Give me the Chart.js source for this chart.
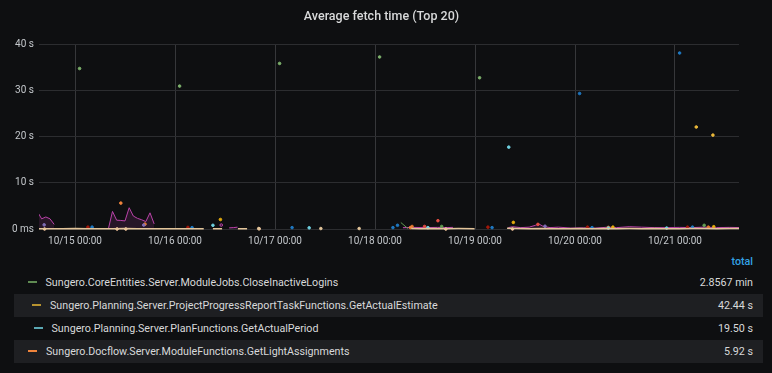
<!DOCTYPE html>
<html lang="en">
<head>
<meta charset="UTF-8">
<title>Average fetch time (Top 20)</title>
<script src="https://cdn.jsdelivr.net/npm/chart.js"></script>
<style>
    body { margin: 0; padding: 0; background: #0e0f11; font-family: Roboto, Arial, sans-serif; }
    #wrap { position: relative; width: 772px; height: 373px; overflow: hidden; }
    #chart { display: block; }
    #legend { position: absolute; left: 14px; top: 250px; width: 749px; font-size: 10.7px; color: #d8d9da; }
    .lg-head { height: 21px; line-height: 23px; text-align: right; padding-right: 10px; color: #33a2e5; font-weight: 500; }
    .lg-row { position: relative; height: 23px; line-height: 23px; }
    .lg-row.alt { background: #1e1f22; }
    .lg-dash { position: absolute; top: 10px; width: 9px; height: 2px; }
    .lg-name { position: absolute; top: 0; }
    .lg-val { position: absolute; right: 10px; top: 0; }
</style>
</head>
<body>
<div id="wrap">
    <canvas id="chart" width="772" height="250"></canvas>
    <div id="legend"></div>
</div>
<script>
// hours counted from 10/14 00:00, values in seconds; null = gap in series
const timeMin = 15.36;
const timeMax = 183.36;
const dayTicks = [24, 48, 72, 96, 120, 144, 168];
const yTicks = [0, 10, 20, 30, 40];

const closeInactiveLogins = [[25.1, 34.7], null, [49.1, 30.9], null, [73.1, 35.8], null, [97.1, 37.2], null, [121.1, 32.7]];
const getActualEstimate = [[173.1, 22.05], null, [177.1, 20.3]];
const getActualPeriod = [[57.1, 0.8], null, [80.2, 0.25], null, [108.7, 0.3], null, [128.1, 17.7], null, [152, 0.2], null, [166, 0.2]];
const getLightAssignments = [[35.0, 5.6], null, [104.5, 0.3]];
const blueSeries = [[28.1, 0.4], null, [52.1, 0.3], null, [76.1, 0.3], null, [100.3, 0.3], null, [101.4, 0.8], null, [124.1, 0.3], null,
    [145.1, 29.3], null, [148.1, 0.3], null, [169.1, 38.05], null, [172.2, 0.4]];
const darkRedSeries = [[27.1, 0.4], null, [51.1, 0.35], null, [123.1, 0.4], null, [147.0, 0.4], null, [171.0, 0.4]];
const redSeries = [[107.9, 0.55], null, [111.1, 1.8], null, [135.1, 1.0]];
const magentaSeries = [[15, 3.7], [16, 2.2], [17, 2.6], [18, 2.2], [19, 1.0], null,
    [32, 0.0], [33, 3.8], [34, 1.9], [35, 1.85], [36, 1.75], [37, 4.6], [38, 2.8], [39, 2.3], [40, 2.0], [41, 1.6], [42, 3.5], [43, 1.1], null,
    [59.1, 0.85], null,
    [61, 0.25], [62, 0.3], [63, 0.4], null,
    [102.7, 0.3], [105, 0.35], [108, 0.3], [111, 0.35], [113, 0.3], [114.7, 0.35], null,
    [128, 0.3], [129, 0.5], [131, 0.3], [133, 0.4], [134.5, 0.8], [135.3, 1.1], [136.3, 0.6], [138, 0.3], [140, 0.4], [143, 0.2],
    [146, 0.25], [149, 0.2], [152, 0.4], [154, 0.3], [157, 0.5], [160, 0.4], [163, 0.3], [166, 0.3], [169, 0.35], [172, 0.3],
    [175, 0.4], [178, 0.3], [181, 0.35], [184, 0.3]];
const beigeSeries = [[15, 0.08], [18, 0.05], [21, 0.06], [24, 0.1], [27, 0.05], [30, 0.07], [33, 0.06], [36, 0.09], [39, 0.05],
    [42, 0.08], [45, 0.06], [48, 0.05], [51, 0.07], [54.9, 0.06], null,
    [57.1, 0.05], [59.3, 0.08], null, [63.1, 0.06], [65.3, 0.05], null, [68.1, 0.1], null, [83.0, 0.1], null, [92.2, 0.1], null,
    [104.7, 0.12], [107, 0.08], [110, 0.1], [113, 0.06], [116, 0.09], [119.9, 0.07], null,
    [127.7, 0.15], [130, 0.1], [133, 0.08], [136, 0.12], [139, 0.07], [142, 0.06], [145, 0.1], [148, 0.08], [151, 0.11],
    [154, 0.07], [157, 0.09], [160, 0.06], [163, 0.1], [166, 0.08], [169, 0.07], [172, 0.12], [175, 0.09], [178, 0.07],
    [181, 0.1], [184, 0.08]];
const purpleSeries = [[16.6, 0.9], null, [40.5, 0.85], null, [136.8, 0.6]];
const goldSeries = [[58.9, 2.05], null, [129.2, 1.43], null, [153.1, 0.4], null, [177.3, 0.5]];
const greenSmall = [[102.2, 1.4], [103.9, 0.1], null, [112.0, 0.55], null, [175.0, 0.8]];
const orangeSmall = [[40.8, 1.05], null, [104.9, 0.55], null, [152.0, 0.35], null, [176.0, 0.4]];
const peachPoints = [[16.7, 0.0], null, [34.1, 0.0], null, [36.2, 0.0], null, [68.2, 0.05], null, [113.0, 0.0], null, [129.0, 0.0]];

const legendNames = [
    'Sungero.CoreEntities.Server.ModuleJobs.CloseInactiveLogins',
    'Sungero.Planning.Server.ProjectProgressReportTaskFunctions.GetActualEstimate',
    'Sungero.Planning.Server.PlanFunctions.GetActualPeriod',
    'Sungero.Docflow.Server.ModuleFunctions.GetLightAssignments'
];
const legendTotals = ['2.8567 min', '42.44 s', '19.50 s', '5.92 s'];

function toPoints(arr) {
    const out = [];
    arr.forEach((p, i) => {
        if (p === null) {
            out.push({ x: (arr[i - 1][0] + arr[i + 1][0]) / 2, y: null });
        } else {
            out.push({ x: p[0], y: p[1] });
        }
    });
    return out;
}

// grafana draws a dot only where a value has no neighbours
function isolatedRadius(ctx) {
    const d = ctx.dataset.data;
    const i = ctx.dataIndex;
    if (!d[i] || d[i].y === null) return 0;
    const prev = d[i - 1], next = d[i + 1];
    const iso = (!prev || prev.y === null) && (!next || next.y === null);
    return iso ? 1.3 : 0;
}

function series(label, arr, color, extra) {
    return Object.assign({
        label: label,
        data: toPoints(arr),
        borderColor: color,
        backgroundColor: color,
        borderWidth: 1,
        pointRadius: isolatedRadius,
        pointBorderWidth: 1,
        pointHoverRadius: 0,
        spanGaps: false,
        fill: false,
        tension: 0,
        clip: { left: 0, right: 0, top: 3, bottom: 3 }
    }, extra || {});
}

const datasets = [
    series('beige', beigeSeries, '#e3c59a', { borderWidth: 1.5 }),
    series(legendNames[0], closeInactiveLogins, '#7eb26d'),
    series(legendNames[1], getActualEstimate, '#eab839'),
    series(legendNames[2], getActualPeriod, '#6ed0e0'),
    series(legendNames[3], getLightAssignments, '#ef843c'),
    series('blue', blueSeries, '#1f78c1'),
    series('darkred', darkRedSeries, '#a0180a'),
    series('red', redSeries, '#e24d42'),
    series('purple', purpleSeries, '#806eb7'),
    series('gold', goldSeries, '#e5ac0e'),
    series('green2', greenSmall, '#629e51'),
    series('orange2', orangeSmall, '#e0752d'),
    series('peach', peachPoints, '#f9c99f'),
    series('magenta', magentaSeries, '#ba43a9', { fill: 'origin', backgroundColor: 'rgba(186, 67, 169, 0.15)' })
];

// panel title, centred on the whole panel rather than the plot
const panelTitle = {
    id: 'panelTitle',
    afterDraw(chart) {
        const c = chart.ctx;
        c.save();
        c.font = '500 12.5px Roboto, Arial, sans-serif';
        c.fillStyle = '#d8d9da';
        c.textAlign = 'center';
        c.textBaseline = 'middle';
        c.fillText('Average fetch time (Top 20)', 381.5, 17);
        c.restore();
    }
};

Chart.defaults.font.family = 'Roboto, Arial, sans-serif';
Chart.defaults.color = '#c4c8cc';

new Chart(document.getElementById('chart'), {
    type: 'line',
    data: { datasets: datasets },
    plugins: [panelTitle],
    options: {
        responsive: false,
        animation: false,
        layout: { padding: { left: 0, right: 33, top: 44, bottom: 0 } },
        plugins: {
            legend: { display: false },
            tooltip: { enabled: false },
            title: { display: false }
        },
        scales: {
            x: {
                type: 'linear',
                min: timeMin,
                max: timeMax,
                afterBuildTicks: s => { s.ticks = dayTicks.map(v => ({ value: v })); },
                afterFit: s => { s.height = 21; },
                grid: { color: '#36373a', drawTicks: false },
                border: { display: false },
                ticks: {
                    padding: 6,
                    maxRotation: 0,
                    font: { size: 10 },
                    callback: v => '10/' + (14 + v / 24) + ' 00:00'
                }
            },
            y: {
                min: 0,
                max: 40,
                afterBuildTicks: s => { s.ticks = yTicks.map(v => ({ value: v })); },
                afterFit: s => { s.width = 39; },
                grid: { color: '#2c2d30', drawTicks: false },
                border: { display: false },
                ticks: {
                    padding: 5,
                    font: { size: 10 },
                    callback: v => v === 0 ? '0 ms' : v + ' s'
                }
            }
        }
    }
});

// legend table with totals
const legendColors = ['#5f8a52', '#b8932f', '#5aa8b3', '#ef843c'];
const indents = [13.5, 18, 19.5, 14];
const lg = document.getElementById('legend');
let html = '<div class="lg-head">total</div>';
legendNames.forEach((name, i) => {
    html += '<div class="lg-row' + (i % 2 === 1 ? ' alt' : '') + '">' +
        '<span class="lg-dash" style="left:' + indents[i] + 'px;background:' + legendColors[i] + '"></span>' +
        '<span class="lg-name" style="left:' + (indents[i] + 18) + 'px">' + name + '</span>' +
        '<span class="lg-val">' + legendTotals[i] + '</span></div>';
});
lg.innerHTML = html;
</script>
</body>
</html>
